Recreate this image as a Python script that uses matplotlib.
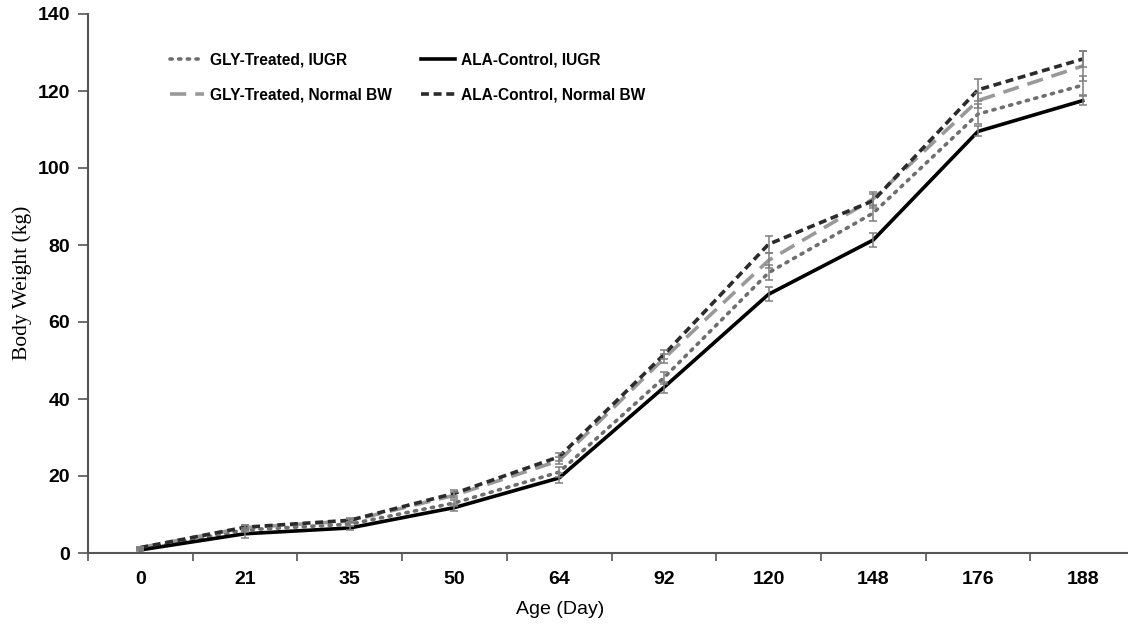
import matplotlib
matplotlib.use("Agg")
import matplotlib.pyplot as plt
import numpy as np

days = ["0", "21", "35", "50", "64", "92", "120", "148", "176", "188"]

gly_iugr = [1.0, 6.0, 7.5, 13.0, 21.0, 45.5, 72.8, 88.3, 114.0, 121.5]
gly_iugr_err = [0.2, 0.6, 0.5, 0.8, 1.3, 1.5, 2.0, 2.0, 2.5, 2.5]
ala_iugr = [0.8, 5.0, 6.5, 11.8, 19.5, 43.0, 67.2, 81.3, 109.5, 117.5]
ala_iugr_err = [0.2, 1.0, 0.5, 0.8, 1.2, 1.5, 1.8, 1.7, 1.3, 1.2]
gly_norm = [1.4, 6.6, 8.3, 15.0, 24.0, 50.5, 76.0, 92.0, 117.5, 126.5]
gly_norm_err = [0.2, 0.6, 0.5, 0.8, 1.0, 1.2, 2.0, 1.8, 2.0, 4.0]
ala_norm = [1.4, 6.7, 8.5, 15.5, 25.0, 51.5, 80.2, 91.5, 120.3, 128.3]
ala_norm_err = [0.2, 0.6, 0.5, 0.8, 1.0, 1.2, 2.2, 1.8, 2.8, 2.0]

labels = ["GLY-Treated, IUGR", "GLY-Treated, Normal BW",
          "ALA-Control, IUGR", "ALA-Control, Normal BW"]

fig = plt.figure(figsize=(11.28, 6.3), dpi=100)
ax = fig.add_axes([88/1128, 77/630, (1135-88)/1128, (553-14)/630])

x = np.arange(len(days))
ecol = "#7f7f7f"

series = [
    (gly_iugr, gly_iugr_err, dict(color="#6e6e6e", linestyle=(0, (0.6, 1.8)), dash_capstyle="round", lw=2.6), labels[0]),
    (gly_norm, gly_norm_err, dict(color="#999999", linestyle=(0, (4.5, 2.5)), lw=2.6), labels[1]),
    (ala_iugr, ala_iugr_err, dict(color="#000000", linestyle="-", lw=2.6), labels[2]),
    (ala_norm, ala_norm_err, dict(color="#2b2b2b", linestyle=(0, (2.2, 1.3)), lw=2.6), labels[3]),
]

handles = {}
for vals, errs, style, lab in series:
    line, = ax.plot(x, vals, label=lab, zorder=3, **style)
    handles[lab] = line
    ax.errorbar(x, vals, yerr=errs, fmt="none", ecolor=ecol, elinewidth=1.1,
                capsize=3, capthick=1.1, zorder=4)

ax.set_xlim(-0.5, len(days) - 0.5)
ax.set_ylim(0, 140)
ax.set_yticks(np.arange(0, 141, 20))
ax.set_xticks(x)
ax.set_xticklabels(days)
ax.set_xticks(np.arange(-0.5, len(days), 1), minor=True)
ax.tick_params(axis="x", which="major", length=0, pad=13)
ax.tick_params(axis="x", which="minor", length=6, width=1.2, color="#555555")
ax.tick_params(axis="y", length=7, width=1.2, color="#555555", pad=6)

for lab in ax.get_xticklabels() + ax.get_yticklabels():
    lab.set_fontfamily("Liberation Sans")
    lab.set_fontweight("bold")
    lab.set_fontsize(14)

for s in ["top", "right"]:
    ax.spines[s].set_visible(False)
for s in ["left", "bottom"]:
    ax.spines[s].set_color("#555555")
    ax.spines[s].set_linewidth(1.5)

fig.text(22/1128, 1 - 283/630, "Body Weight (kg)", fontfamily="Liberation Serif",
         fontsize=15.5, rotation=90, ha="center", va="center")
fig.text(560/1128, 1 - 609/630, "Age (Day)", fontfamily="Liberation Sans",
         fontsize=14, ha="center", va="center")

order = [labels[0], labels[1], labels[2], labels[3]]
leg = ax.legend([handles[l] for l in order], order, ncol=2, frameon=False,
                loc="upper left", bbox_to_anchor=(0.065, 0.955),
                prop={"family": "Liberation Sans", "weight": "bold", "size": 11.2},
                handlelength=2.2, handletextpad=0.35, columnspacing=1.9,
                labelspacing=1.32)

fig.savefig("out.png", dpi=100, facecolor="white")
